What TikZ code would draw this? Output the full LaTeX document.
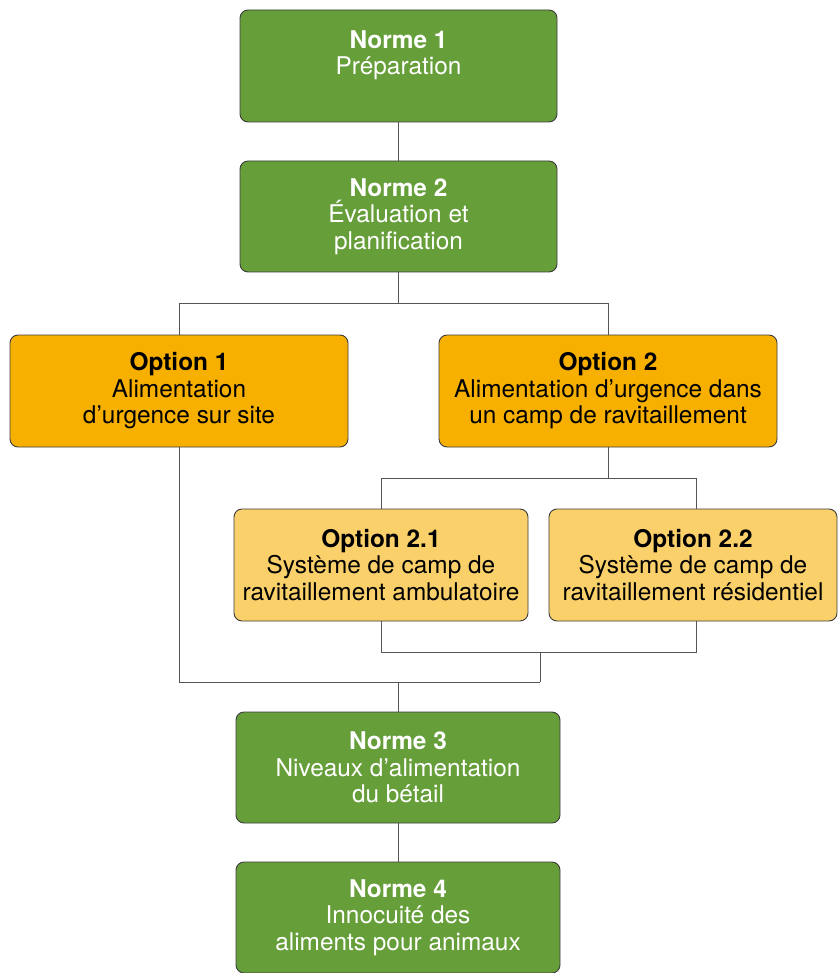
\documentclass[tikz,border=0pt]{standalone}
\usepackage{fontspec}
\setmainfont{TeX Gyre Heros}
\definecolor{normegreen}{RGB}{102,158,58}
\definecolor{optorange}{RGB}{247,176,0}
\definecolor{optlight}{RGB}{250,208,106}
\definecolor{edgegray}{RGB}{60,60,60}
\definecolor{linegray}{RGB}{85,85,85}
\begin{document}
\begin{tikzpicture}[x=1pt,y=-1pt,
  box/.style={rectangle, rounded corners=8pt, draw=edgegray, line width=0.9pt,
    inner sep=0pt, align=center, font=\fontsize{24.4}{26.5}\selectfont},
  green/.style={box, fill=normegreen, text=white},
  orange/.style={box, fill=optorange, text=black},
  light/.style={box, fill=optlight, text=black},
  conn/.style={draw=linegray, line width=1pt}]
\useasboundingbox (0,0) rectangle (838,973);
\node[green, minimum width=317pt, minimum height=112pt] (n1) at (398.5,66) {\textbf{Norme 1}\\Préparation\\\mbox{}};
\node[green, minimum width=317pt, minimum height=111pt] (n2) at (398.5,216.5) {\textbf{Norme 2}\\Évaluation et\\planification};
\node[orange, minimum width=338pt, minimum height=112pt] (o1) at (179,391) {\textbf{Option 1}\\Alimentation\\d’urgence sur site};
\node[orange, minimum width=338pt, minimum height=112pt] (o2) at (608,391) {\textbf{Option 2}\\Alimentation d’urgence dans\\un camp de ravitaillement};
\node[light, minimum width=294pt, minimum height=112pt] (o21) at (381,565) {\textbf{Option 2.1}\\Système de camp de\\ravitaillement ambulatoire};
\node[light, minimum width=288pt, minimum height=112pt] (o22) at (693,565) {\textbf{Option 2.2}\\Système de camp de\\ravitaillement résidentiel};
\node[green, minimum width=324pt, minimum height=111pt] (n3) at (398,767.5) {\textbf{Norme 3}\\Niveaux d’alimentation\\du bétail};
\node[green, minimum width=324pt, minimum height=111pt] (n4) at (398,917.5) {\textbf{Norme 4}\\Innocuité des\\aliments pour animaux};
% junction coordinates
\coordinate (j1) at (398.5,303);
\coordinate (j2) at (608,478);
\coordinate (t22) at (696,509);
\coordinate (b22) at (696,621);
\coordinate (j3) at (540,652);
\coordinate (j4) at (540,682);
\coordinate (j5) at (398,682);
% connectors
\draw[conn] (n1.south) -- (n2.north);
\draw[conn] (n2.south) -- (j1);
\draw[conn] (o1.north) -- (o1.north |- j1) -- (o2.north |- j1) -- (o2.north);
\draw[conn] (o2.south) -- (j2);
\draw[conn] (o21.north) -- (o21.north |- j2) -- (t22 |- j2) -- (t22);
\draw[conn] (o21.south) -- (o21.south |- j3) -- (b22 |- j3) -- (b22);
\draw[conn] (j3) -- (j4);
\draw[conn] (o1.south) -- (o1.south |- j4) -- (j4);
\draw[conn] (j5) -- (n3.north);
\draw[conn] (n3.south) -- (n4.north);
\end{tikzpicture}
\end{document}
